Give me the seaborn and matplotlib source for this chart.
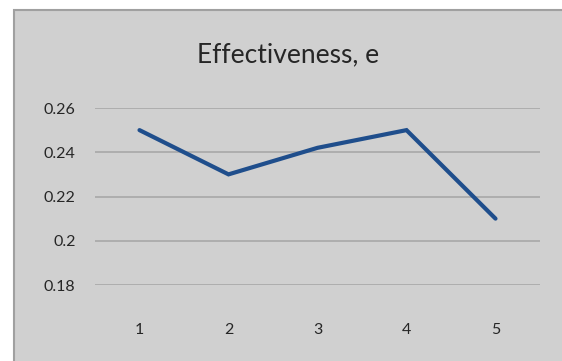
import numpy as np
import pandas as pd
import matplotlib
matplotlib.use("Agg")
import matplotlib.pyplot as plt
import seaborn as sns
from matplotlib.patches import Rectangle

# ── Data ──
runs = [1, 2, 3, 4, 5]
effectiveness = [0.25, 0.23, 0.242, 0.25, 0.21]
y_ticks = [0.18, 0.20, 0.22, 0.24, 0.26]
y_tick_labels = ["0.18", "0.2", "0.22", "0.24", "0.26"]

df = pd.DataFrame({"run": runs, "e": effectiveness})

# ── Style ──
sns.set_style("white")
plt.rcParams['font.family'] = ['Lato', 'DejaVu Sans']

BG = "#d0d0d0"
GRID = "#a8a8a8"
LINE = "#1f4e8c"
TXT = "#262626"

W, H = 562, 361
fig = plt.figure(figsize=(W / 100, H / 100), dpi=100)
fig.patch.set_facecolor("white")

# chart area (gray panel with border) on a background axes
bg = fig.add_axes([0, 0, 1, 1], zorder=0)
bg.set_xlim(0, W)
bg.set_ylim(H, 0)
bg.axis("off")
bg.add_patch(Rectangle((14, 10), W - 14 + 5, H, facecolor=BG,
                       edgecolor="#a0a0a0", linewidth=1.5))

# plot area: x 95..540, y 108..285 (pixels from top)
ax = fig.add_axes([95 / W, 1 - 285 / H, (540 - 95) / W, (285 - 108) / H],
                  zorder=1)
ax.set_facecolor("none")

sns.lineplot(data=df, x="run", y="e", ax=ax, color=LINE, linewidth=3.0,
             solid_capstyle="round", solid_joinstyle="miter")

ax.set_xlim(0.5, 5.5)
ax.set_ylim(0.18, 0.26)
ax.set_xticks(runs)
ax.set_xticklabels([str(r) for r in runs])
ax.set_yticks(y_ticks)
ax.set_yticklabels(y_tick_labels)
ax.tick_params(axis="both", length=0, labelsize=11.5, colors=TXT)
ax.tick_params(axis="x", pad=27)
ax.tick_params(axis="y", pad=14)
ax.grid(axis="y", color=GRID, linewidth=1.2)
ax.set_axisbelow(True)
for s in ax.spines.values():
    s.set_visible(False)
ax.set_xlabel("")
ax.set_ylabel("")

fig.text(288 / W, 1 - 55 / H, "Effectiveness, e", ha="center",
         va="center", fontsize=19, color=TXT)

fig.savefig("out.png", dpi=100, facecolor=fig.get_facecolor())
